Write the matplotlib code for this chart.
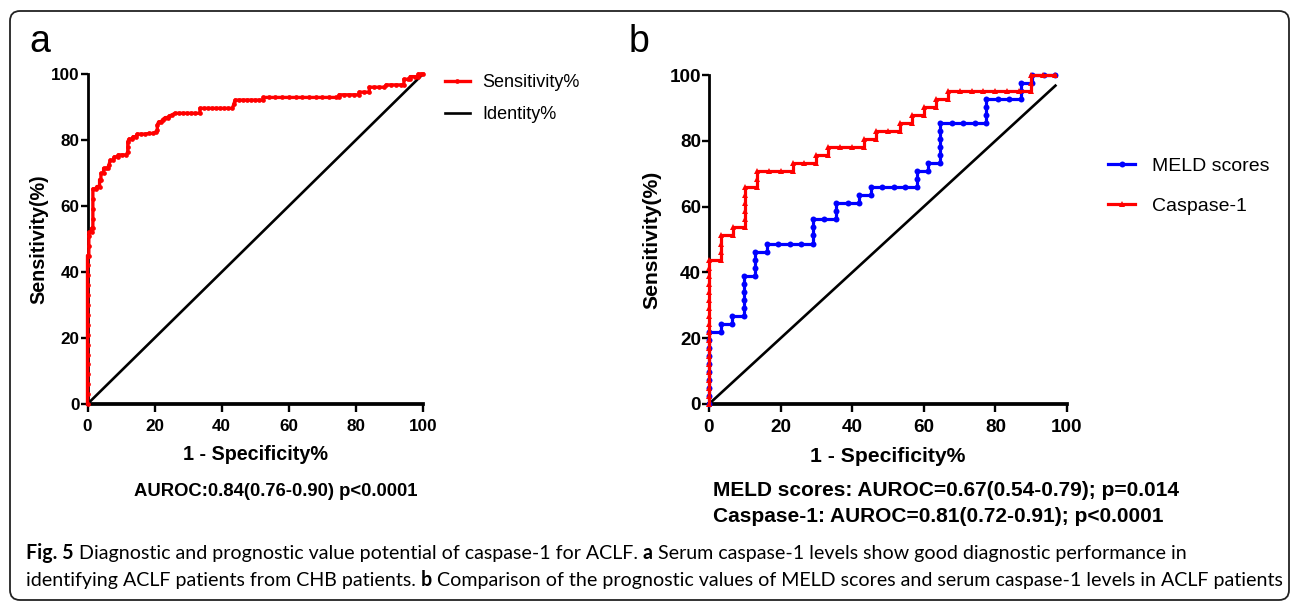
import matplotlib
matplotlib.use("Agg")
import matplotlib.pyplot as plt
from matplotlib import font_manager
from matplotlib.patches import FancyBboxPatch
from matplotlib.transforms import IdentityTransform

plt.rcParams['font.family'] = ['Liberation Sans', 'DejaVu Sans']

# ---- data ----
ticks = [0, 20, 40, 60, 80, 100]

# panel a: ROC of serum caspase-1 (ACLF vs CHB)
a_fpr = [0, 0, 0, 0, 0, 0, 0, 0, 0, 0, 0, 0, 0, 0, 0, 0,
         0.4, 0.4, 0.4, 0.4,
         1.2, 1.2,
         1.6, 1.6, 1.6, 1.6, 1.6,
         2.4, 2.8, 3.6, 3.6, 4.0, 4.0, 4.8, 4.8, 5.6, 6.0, 6.4, 6.8, 7.6, 8.0, 9.2, 9.2, 10.4, 11.6,
         12.0, 12.0, 12.0, 12.4, 13.2, 13.6, 14.4, 14.8, 16.0, 17.2, 18.4, 19.6,
         20.4, 20.8, 20.8, 21.2, 22.0, 22.4, 23.2, 24.0, 24.4, 25.2, 26.0,
         27.2, 28.4, 29.6, 30.8, 32.0, 33.5, 33.5,
         34.8, 36.0, 37.2, 38.4, 39.6, 40.8, 42.0, 43.2, 43.6, 44.0,
         45.2, 46.4, 47.6, 48.8, 50.0, 51.2, 52.4, 52.4,
         54, 56, 58, 60, 62, 64, 66, 68, 70, 72, 74, 75, 75,
         76.5, 78, 79.5, 81, 81, 82.5, 84, 84, 85.5, 87, 88.5, 89,
         90.5, 92, 93.5, 94.3, 94.3, 95.5, 96.2, 96.2, 97.5, 98.6, 98.6, 99.3, 100]
a_tpr = [0, 3, 6, 9, 12, 15, 18, 21, 24, 27, 30, 33, 36, 39, 42, 45,
         45, 48, 51, 52,
         52, 53.2,
         53.2, 56, 59, 62, 65.2,
         65.2, 65.9, 65.9, 68, 68, 69.9, 69.9, 71.4, 71.4, 71.4, 72.5, 73.9, 73.9, 74.9, 74.9, 75.5, 75.5, 75.5,
         76.5, 78, 79.5, 80.3, 80.3, 81, 81, 81.8, 81.8, 81.8, 82, 82,
         82.5, 83, 84.5, 85.5, 85.5, 86.2, 86.8, 86.8, 87.3, 87.6, 88.1,
         88.1, 88.1, 88.1, 88.1, 88.1, 88.1, 89.6,
         89.6, 89.6, 89.6, 89.6, 89.6, 89.6, 89.6, 89.6, 90.8, 92.1,
         92.1, 92.1, 92.1, 92.1, 92.1, 92.1, 92.1, 92.9,
         92.9, 92.9, 92.9, 92.9, 92.9, 92.9, 92.9, 92.9, 92.9, 92.9, 92.9, 92.9, 93.7,
         93.7, 93.7, 93.7, 93.7, 94.5, 94.5, 94.5, 96.0, 96.0, 96.0, 96.0, 96.7,
         96.7, 96.7, 96.7, 96.7, 98.4, 98.4, 98.4, 99.2, 99.2, 99.2, 100, 100, 100]
a_identity = [0, 100]

# panel b: prognostic ROC, MELD scores vs caspase-1
meld_fpr = [0, 0, 0, 0, 0, 0, 0, 0, 0, 0,
            3.23, 3.23, 6.45, 6.45,
            9.68, 9.68, 9.68, 9.68, 9.68, 9.68,
            12.9, 12.9, 12.9, 12.9, 16.13, 16.13,
            19.35, 22.58, 25.81, 29.03, 29.03, 29.03, 29.03,
            32.26, 35.48, 35.48, 35.48, 38.71, 41.94, 41.94,
            45.16, 45.16, 48.39, 51.61, 54.84, 58.06, 58.06, 58.06,
            61.29, 61.29, 64.52, 64.52, 64.52, 64.52, 64.52, 64.52,
            67.74, 70.97, 74.19, 77.42, 77.42, 77.42, 77.42,
            80.65, 83.87, 87.1, 87.1, 87.1, 90.32, 90.32, 93.55, 96.77]
meld_tpr = [0, 2.44, 4.88, 7.32, 9.76, 12.2, 14.63, 17.07, 19.51, 21.95,
            21.95, 24.39, 24.39, 26.83,
            26.83, 29.27, 31.71, 34.15, 36.59, 39.02,
            39.02, 41.46, 43.9, 46.34, 46.34, 48.78,
            48.78, 48.78, 48.78, 48.78, 51.22, 53.66, 56.1,
            56.1, 56.1, 58.54, 60.98, 60.98, 60.98, 63.41,
            63.41, 65.85, 65.85, 65.85, 65.85, 65.85, 68.29, 70.73,
            70.73, 73.17, 73.17, 75.61, 78.05, 80.49, 82.93, 85.37,
            85.37, 85.37, 85.37, 85.37, 87.8, 90.24, 92.68,
            92.68, 92.68, 92.68, 95.12, 97.56, 97.56, 100, 100, 100]
casp_fpr = [0, 0, 0, 0, 0, 0, 0, 0, 0, 0, 0, 0, 0, 0, 0, 0, 0, 0, 0,
            3.33, 3.33, 3.33, 3.33, 6.67, 6.67,
            10, 10, 10, 10, 10, 10, 13.33, 13.33, 13.33,
            16.67, 20, 23.33, 23.33, 26.67, 30, 30, 33.33, 33.33,
            36.67, 40, 43.33, 43.33, 46.67, 46.67, 50, 53.33, 53.33,
            56.67, 56.67, 60, 60, 63.33, 63.33, 66.67, 66.67,
            70, 73.33, 76.67, 80, 83.33, 86.67, 90, 90, 90, 93.33, 96.67]
casp_tpr = [0, 2.44, 4.88, 7.32, 9.76, 12.2, 14.63, 17.07, 19.51, 21.95,
            24.39, 26.83, 29.27, 31.71, 34.15, 36.59, 39.02, 41.46, 43.9,
            43.9, 46.34, 48.78, 51.22, 51.22, 53.66,
            53.66, 56.1, 58.54, 60.98, 63.41, 65.85, 65.85, 68.29, 70.73,
            70.73, 70.73, 70.73, 73.17, 73.17, 73.17, 75.61, 75.61, 78.05,
            78.05, 78.05, 78.05, 80.49, 80.49, 82.93, 82.93, 82.93, 85.37,
            85.37, 87.8, 87.8, 90.24, 90.24, 92.68, 92.68, 95.12,
            95.12, 95.12, 95.12, 95.12, 95.12, 95.12, 95.12, 97.56, 100, 100, 100]
b_identity = [0, 96.77]

stats_a = "AUROC:0.84(0.76-0.90) p<0.0001"
stats_b = ["MELD scores: AUROC=0.67(0.54-0.79); p=0.014",
           "Caspase-1: AUROC=0.81(0.72-0.91); p<0.0001"]

caption = [
    [("Fig. 5", True), ("Diagnostic and prognostic value potential of caspase-1 for ACLF.", False),
     ("a", True), ("Serum caspase-1 levels show good diagnostic performance in", False)],
    [("identifying ACLF patients from CHB patients.", False), ("b", True),
     ("Comparison of the prognostic values of MELD scores and serum caspase-1 levels in ACLF patients", False)],
]

# ---- layout ----
W, H = 1290, 601
fig = plt.figure(figsize=(W / 100, H / 100), dpi=100)


def fx(px):
    return px / W


def fy(py):
    return 1 - py / H


names = {f.name for f in font_manager.fontManager.ttflist}
narrow = 'Liberation Sans Narrow' in names
tick_family = ['Liberation Sans Narrow', 'Liberation Sans'] if narrow else ['Liberation Sans']
cap_family = ['Lato', 'Liberation Sans']


def style(ax, tsize, lsize, ylabpad, xlabpad):
    ax.set_xlim(0, 100)
    ax.set_ylim(0, 100)
    ax.spines['top'].set_visible(False)
    ax.spines['right'].set_visible(False)
    ax.spines['left'].set_linewidth(2.0)
    ax.spines['bottom'].set_linewidth(2.7)
    ax.set_xticks(ticks)
    ax.set_yticks(ticks)
    ax.tick_params(axis='y', direction='out', length=4.8, width=1.7, pad=0.8)
    ax.tick_params(axis='x', direction='out', length=5.8, width=1.7, pad=5)
    for lab in ax.get_xticklabels() + ax.get_yticklabels():
        lab.set_family(tick_family)
        lab.set_weight('bold')
        lab.set_size(tsize)
    ax.set_xlabel('1 - Specificity%', fontsize=lsize, fontweight='bold', labelpad=xlabpad)
    ax.set_ylabel('Sensitivity(%)', fontsize=lsize, fontweight='bold', labelpad=ylabpad)
    ax.patch.set_alpha(0)


ax_a = fig.add_axes([fx(87.5), fy(404), (423 - 87.5) / W, (404 - 74) / H])
ax_b = fig.add_axes([fx(709), fy(404), (1067 - 709) / W, (404 - 75) / H])

# panel a
la, = ax_a.plot(a_fpr, a_tpr, color='#ff0000', lw=2.4, marker='o', ms=3.4, mew=0,
                clip_on=False, zorder=4, label='Sensitivity%')
li, = ax_a.plot(a_identity, a_identity, color='black', lw=1.9, zorder=3, label='Identity%')
style(ax_a, 13.5 if narrow else 12.3, 14.2, 2, 8)
ax_a.legend(handles=[la, li], loc='upper left', bbox_to_anchor=(fx(445), fy(74)),
            bbox_transform=fig.transFigure, frameon=False, fontsize=13,
            handlelength=1.38, handletextpad=0.7, labelspacing=0.85,
            borderpad=0, borderaxespad=0)

# panel b
lm, = ax_b.plot(meld_fpr, meld_tpr, color='#0000ff', lw=2.3, marker='o', ms=4.3, mew=0,
                clip_on=False, zorder=4, label='MELD scores')
lc, = ax_b.plot(casp_fpr, casp_tpr, color='#ff0000', lw=2.3, marker='^', ms=4.6, mew=0,
                clip_on=False, zorder=5, label='Caspase-1')
ax_b.plot(b_identity, b_identity, color='black', lw=1.9, zorder=3)
style(ax_b, 15 if narrow else 13.6, 15.2, 6, 8)
ax_b.legend(handles=[lm, lc], loc='upper left', bbox_to_anchor=(fx(1108), fy(157)),
            bbox_transform=fig.transFigure, frameon=False, fontsize=14,
            handlelength=1.39, handletextpad=0.87, labelspacing=1.17,
            borderpad=0, borderaxespad=0)

# panel letters
fig.text(fx(29), fy(52), 'a', fontsize=27, va='baseline', ha='left')
fig.text(fx(629), fy(52), 'b', fontsize=27, va='baseline', ha='left')

# statistics under the plots
fig.text(fx(275.5), fy(491), stats_a, ha='center', va='center', fontsize=13.3, fontweight='bold')
fig.text(fx(713), fy(491), stats_b[0], ha='left', va='center', fontsize=15, fontweight='bold')
fig.text(fx(713), fy(517), stats_b[1], ha='left', va='center', fontsize=15, fontweight='bold')

# caption with bold pieces, fitted to the line width of the original
renderer = fig.canvas.get_renderer()


def text_w(s, size, bold):
    t = fig.text(0, 0, s, fontsize=size, family=cap_family, fontweight='bold' if bold else 'normal')
    w = t.get_window_extent(renderer).width
    t.remove()
    return w


def line_w(segs, size):
    sp = text_w('x x', size, False) - text_w('xx', size, False)
    return sum(text_w(s, size, b) for s, b in segs) + sp * (len(segs) - 1), sp


w2, _ = line_w(caption[1], 12)
cap_size = 12 * (1275 - 26) / w2
for segs, base in zip(caption, [559, 586]):
    _, sp = line_w(segs, cap_size)
    x = 26
    for s, b in segs:
        fig.text(fx(x), fy(base), s, fontsize=cap_size, family=cap_family,
                 fontweight='bold' if b else 'normal', va='baseline', ha='left')
        x += text_w(s, cap_size, b) + sp

# rounded frame around the figure
frame = FancyBboxPatch((10, 1), 1279, 589, boxstyle='round,pad=0,rounding_size=10',
                       transform=IdentityTransform(), fill=False, lw=1.3, ec='#222222')
fig.add_artist(frame)

fig.savefig('out.png', dpi=100)
